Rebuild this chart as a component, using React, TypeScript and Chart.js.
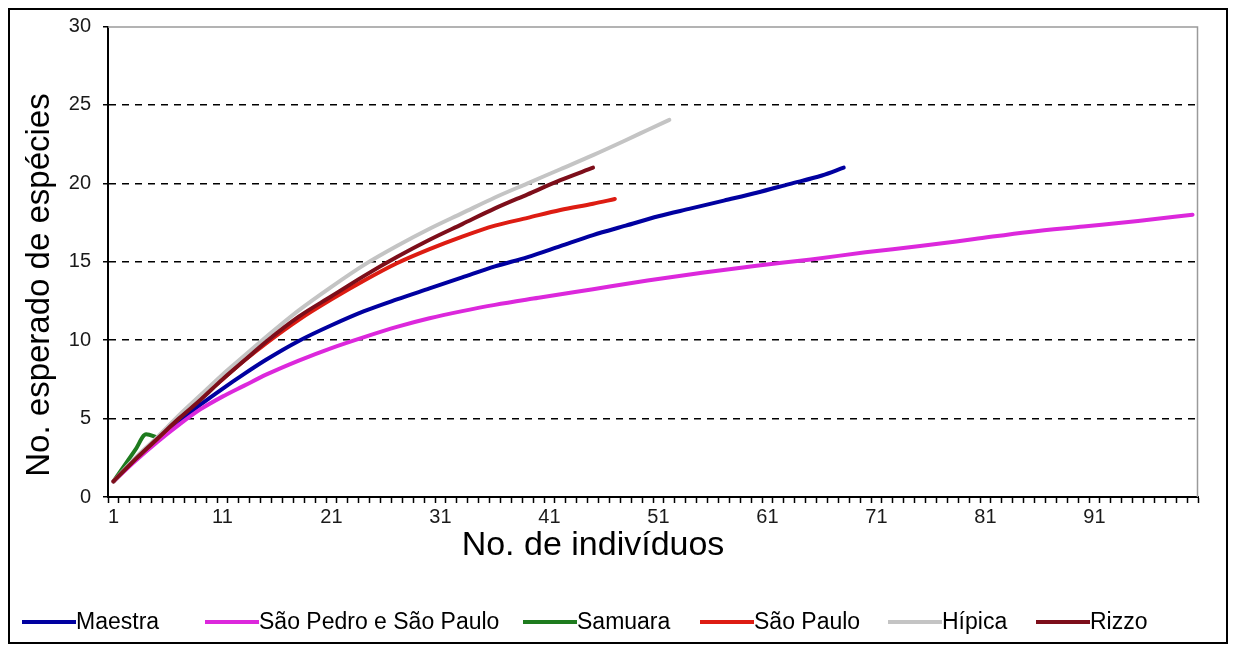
import React, { useEffect, useRef } from "react";
import { Chart, registerables } from "chart.js";

Chart.register(...registerables);

const FONT = "'Liberation Sans', Arial, Helvetica, sans-serif";
Chart.defaults.font.family = FONT;

// Category axis: number of individuals sampled
const individuals = Array.from({ length: 100 }, (_, i) => i + 1);
const xTickLabels = [1, 11, 21, 31, 41, 51, 61, 71, 81, 91];
const yTicks = { min: 0, max: 30, step: 5 };

const xTitle = "No. de indivíduos";
const yTitle = "No. esperado de espécies";

// Expected species (rarefaction) per site
const maestraN = [1, 3, 5, 7, 9, 11, 13, 15, 18, 21, 24, 27, 30, 33, 36, 39, 42, 45, 48, 51, 54, 57, 60, 63, 66, 68];
const maestraS = [1, 2.4, 3.6, 4.8, 5.9, 6.9, 7.85, 8.75, 9.95, 10.95, 11.85, 12.6, 13.3, 14.0, 14.7, 15.3, 16.0, 16.7, 17.3, 17.9, 18.4, 18.9, 19.4, 19.95, 20.5, 21.0];

const saoPedroN = [1, 3, 5, 7, 9, 11, 13, 15, 18, 21, 24, 27, 30, 33, 36, 40, 45, 50, 55, 60, 65, 70, 75, 80, 85, 90, 95, 100];
const saoPedroS = [1, 2.3, 3.5, 4.6, 5.6, 6.4, 7.1, 7.8, 8.7, 9.5, 10.2, 10.85, 11.4, 11.85, 12.25, 12.7, 13.25, 13.8, 14.3, 14.75, 15.15, 15.6, 16.0, 16.45, 16.9, 17.25, 17.6, 18.0];

const samuaraN = [1, 2, 3, 4, 5];
const samuaraS = [1, 2.0, 3.0, 4.0, 3.8];

const saoPauloN = [1, 3, 5, 7, 9, 11, 13, 15, 18, 21, 24, 27, 30, 33, 36, 39, 42, 45, 47];
const saoPauloS = [1, 2.4, 3.7, 5.0, 6.3, 7.5, 8.7, 9.8, 11.3, 12.6, 13.8, 14.9, 15.8, 16.6, 17.3, 17.8, 18.3, 18.7, 19.0];

const hipicaN = [1, 3, 5, 7, 9, 11, 13, 15, 18, 21, 24, 27, 30, 33, 36, 39, 42, 45, 48, 50, 52];
const hipicaS = [1, 2.5, 3.8, 5.2, 6.5, 7.8, 9.0, 10.2, 11.9, 13.4, 14.8, 16.0, 17.1, 18.1, 19.1, 20.0, 20.9, 21.8, 22.75, 23.4, 24.05];

const rizzoN = [1, 3, 5, 7, 9, 11, 13, 15, 18, 21, 24, 27, 30, 33, 36, 39, 42, 45];
const rizzoS = [1, 2.4, 3.7, 5.0, 6.2, 7.5, 8.7, 9.9, 11.5, 12.8, 14.1, 15.3, 16.4, 17.4, 18.4, 19.3, 20.2, 21.0];

const seriesNames = ["Maestra", "São Pedro e São Paulo", "Samuara", "São Paulo", "Hípica", "Rizzo"];
const seriesColors = ["#0000a0", "#dc28dc", "#1e7b1e", "#dd1c12", "#c4c4c4", "#7d0e1a"];
const seriesN = [maestraN, saoPedroN, samuaraN, saoPauloN, hipicaN, rizzoN];
const seriesS = [maestraS, saoPedroS, samuaraS, saoPauloS, hipicaS, rizzoS];

// Left edge of each legend entry (canvas px)
const legendSlots = [12, 195, 513, 690, 878, 1026];

// Axis titles, plot frame and legend drawn on the same canvas
const decorations = {
  id: "decorations",
  beforeDatasetsDraw(chart: any) {
    const { ctx, chartArea: a } = chart;
    ctx.save();
    ctx.strokeStyle = "#9a9a9a";
    ctx.lineWidth = 1.5;
    ctx.beginPath();
    ctx.moveTo(a.left, a.top + 0.5);
    ctx.lineTo(a.right - 0.5, a.top + 0.5);
    ctx.lineTo(a.right - 0.5, a.bottom);
    ctx.stroke();
    ctx.restore();
  },
  afterDraw(chart: any) {
    const { ctx, chartArea: a } = chart;
    ctx.save();
    ctx.fillStyle = "#000";
    ctx.textAlign = "center";
    ctx.textBaseline = "middle";
    ctx.font = `34px ${FONT}`;
    ctx.fillText(xTitle, 583, a.bottom + 49);
    ctx.save();
    ctx.font = `33px ${FONT}`;
    ctx.translate(30, 275);
    ctx.rotate(-Math.PI / 2);
    ctx.fillText(yTitle, 0, 0);
    ctx.restore();

    // legend
    const swatch = 54;
    const ly = a.bottom + 125;
    ctx.font = `23px ${FONT}`;
    ctx.textAlign = "left";
    chart.data.datasets.forEach((ds: any, i: number) => {
      const x = legendSlots[i];
      ctx.strokeStyle = ds.borderColor;
      ctx.lineWidth = 4;
      ctx.lineCap = "butt";
      ctx.beginPath();
      ctx.moveTo(x, ly);
      ctx.lineTo(x + swatch, ly);
      ctx.stroke();
      ctx.fillStyle = "#000";
      ctx.fillText(ds.label, x + swatch, ly + 1);
    });
    ctx.restore();
  },
};

export default function App() {
  const canvasRef = useRef<HTMLCanvasElement | null>(null);

  useEffect(() => {
    if (!canvasRef.current) return;
    const n = seriesNames.length;
    const datasets = seriesNames.map((name, i) => ({
      label: name,
      data: seriesN[i].map((v, k) => ({ x: v, y: seriesS[i][k] })),
      borderColor: seriesColors[i],
      backgroundColor: seriesColors[i],
      borderWidth: 4,
      pointRadius: 0,
      fill: false,
      cubicInterpolationMode: "monotone" as const,
      borderJoinStyle: "round" as const,
      borderCapStyle: "round" as const,
      order: n - 1 - i,
    }));

    const chart = new Chart(canvasRef.current, {
      type: "line",
      data: { labels: individuals, datasets },
      options: {
        animation: false,
        responsive: true,
        maintainAspectRatio: false,
        layout: { padding: { top: 16.5, right: 28, left: 0, bottom: 0 } },
        plugins: { legend: { display: false }, tooltip: { enabled: false } },
        scales: {
          x: {
            type: "category",
            offset: true,
            grid: {
              offset: true,
              drawOnChartArea: false,
              drawTicks: true,
              tickLength: 6,
              tickColor: "#000",
              tickWidth: 1.5,
            },
            border: { display: true, color: "#000", width: 2 },
            ticks: {
              autoSkip: false,
              maxRotation: 0,
              minRotation: 0,
              padding: 2,
              color: "#1a1a1a",
              font: { size: 20, family: FONT },
              callback: (_v: any, index: number) => {
                const lab = individuals[index];
                return xTickLabels.includes(lab) ? String(lab) : "";
              },
            },
            afterFit: (scale: any) => {
              scale.height = 145;
            },
          },
          y: {
            min: yTicks.min,
            max: yTicks.max,
            ticks: {
              stepSize: yTicks.step,
              padding: 12,
              color: "#1a1a1a",
              font: { size: 20, family: FONT },
            },
            grid: {
              color: (c: any) =>
                c.tick && (c.tick.value === yTicks.min || c.tick.value === yTicks.max)
                  ? "rgba(0,0,0,0)"
                  : "#000",
              lineWidth: 1.5,
              tickColor: "#000",
              tickLength: 5,
              tickWidth: 1.5,
            },
            border: { display: true, color: "#000", width: 2, dash: [7, 6] },
            afterFit: (scale: any) => {
              scale.width = 98;
              scale.paddingTop = 12;
              scale.paddingBottom = 12;
            },
          },
        },
      },
      plugins: [decorations],
    });
    return () => chart.destroy();
  }, []);

  return (
    <div
      style={{
        width: 1220,
        height: 636,
        border: "2px solid #000",
        boxSizing: "border-box",
        background: "#fff",
      }}
    >
      <div style={{ position: "relative", width: "100%", height: "100%" }}>
        <canvas ref={canvasRef} />
      </div>
    </div>
  );
}
